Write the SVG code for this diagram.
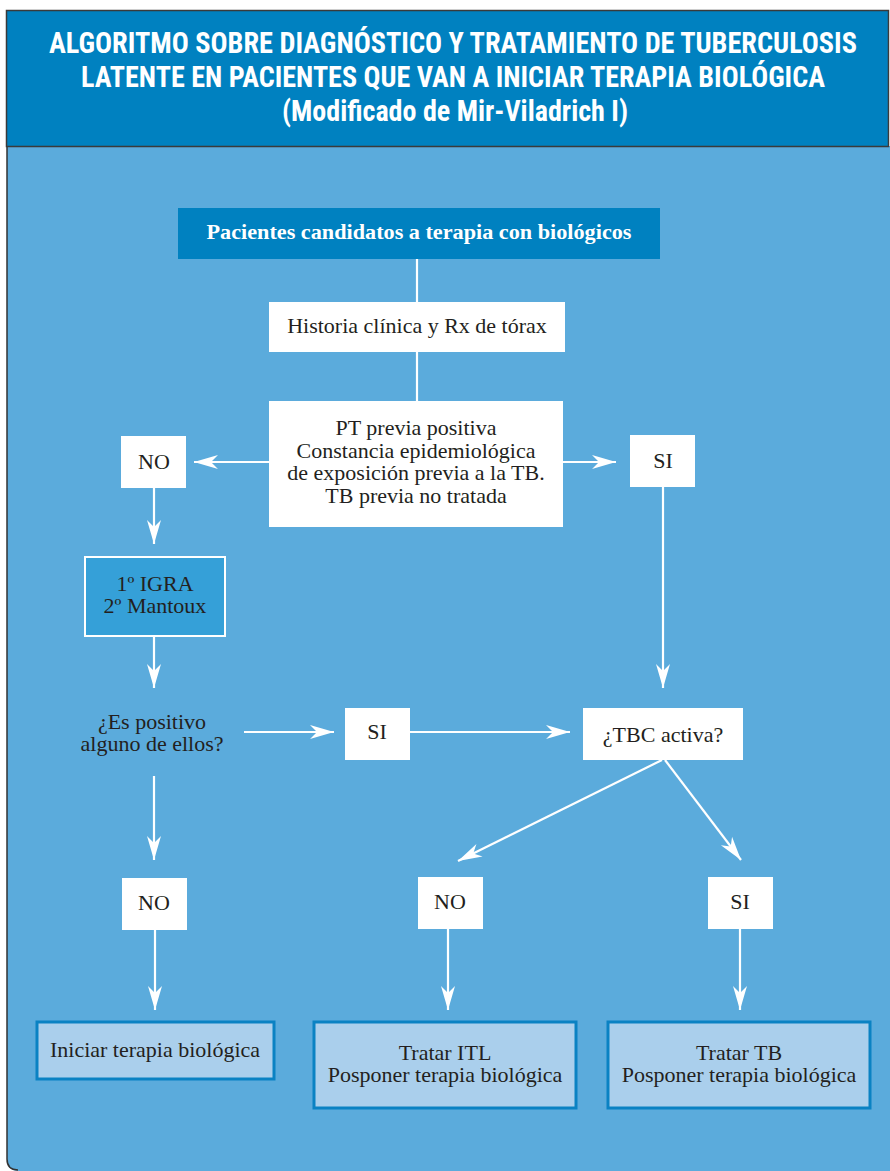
<svg xmlns="http://www.w3.org/2000/svg" width="890" height="1171" viewBox="0 0 890 1171">
<defs>
<style>
.t{font-family:"Liberation Serif","Times New Roman",serif;font-size:22px;fill:#231F20;text-anchor:middle}
.h{font-family:"Liberation Sans Narrow","Roboto Condensed","Liberation Sans",sans-serif;font-weight:bold;font-size:29px;fill:#fff;text-anchor:middle}
.wb{fill:#fff}
.res{fill:#AACFEC;stroke:#0A82C3;stroke-width:3}
.ln{stroke:#fff;stroke-width:2.2;fill:none}
.ar{stroke:#fff;stroke-width:2.2;fill:none;marker-end:url(#ah)}
</style>
<marker id="ah" markerUnits="userSpaceOnUse" markerWidth="30" markerHeight="20" viewBox="-26 -10 30 20" refX="0" refY="0" orient="auto">
<path d="M0,0 L-24,-7 L-17,0 L-24,7 Z" fill="#fff"/>
</marker>
</defs>
<rect width="890" height="1171" fill="#fff"/>
<path d="M7,146 H890 V1171 H19 Q7,1171 7,1159 Z" fill="#5BABDC"/>
<path d="M7,146 V1159 Q7,1170 18,1170" fill="none" stroke="#333" stroke-width="1.5"/>
<g id="header">
<rect x="6.5" y="10.5" width="882" height="136" fill="#0081C0" stroke="#3a3a3a" stroke-width="1.5"/>
<text class="h" x="453" y="53" textLength="808" lengthAdjust="spacingAndGlyphs">ALGORITMO SOBRE DIAGNÓSTICO Y TRATAMIENTO DE TUBERCULOSIS</text>
<text class="h" x="453" y="87" textLength="744" lengthAdjust="spacingAndGlyphs">LATENTE EN PACIENTES QUE VAN A INICIAR TERAPIA BIOLÓGICA</text>
<text class="h" x="455" y="121" textLength="346" lengthAdjust="spacingAndGlyphs">(Modificado de Mir-Viladrich I)</text>
</g>
<g id="connectors">
<line class="ln" x1="417" y1="259" x2="417" y2="302"/>
<line class="ln" x1="417" y1="352" x2="417" y2="401"/>
<line class="ar" x1="269" y1="462" x2="194" y2="462"/>
<line class="ar" x1="563" y1="462" x2="616" y2="462"/>
<line class="ar" x1="154" y1="488" x2="154" y2="544"/>
<line class="ar" x1="154" y1="637" x2="154" y2="688"/>
<line class="ar" x1="663" y1="487" x2="663" y2="688"/>
<line class="ar" x1="244" y1="732" x2="334" y2="732"/>
<line class="ar" x1="410" y1="732" x2="570" y2="732"/>
<line class="ar" x1="662" y1="760" x2="458" y2="861"/>
<line class="ar" x1="665" y1="760" x2="741" y2="860"/>
<line class="ar" x1="154" y1="776" x2="154" y2="860"/>
<line class="ar" x1="155" y1="930" x2="155" y2="1010"/>
<line class="ar" x1="448" y1="929" x2="448" y2="1010"/>
<line class="ar" x1="740" y1="929" x2="740" y2="1010"/>
</g>
<g id="n-pacientes">
<rect x="178" y="208" width="482" height="51" fill="#0081C0"/>
<text class="t" x="419" y="239" style="fill:#fff;font-weight:bold" textLength="425" lengthAdjust="spacingAndGlyphs">Pacientes candidatos a terapia con biológicos</text>
</g>
<g id="n-historia">
<rect class="wb" x="269" y="302" width="296" height="50"/>
<text class="t" x="417" y="333">Historia clínica y Rx de tórax</text>
</g>
<g id="n-pt">
<rect class="wb" x="269" y="401" width="294" height="126"/>
<text class="t" x="416" y="435">PT previa positiva</text>
<text class="t" x="416" y="458">Constancia epidemiológica</text>
<text class="t" x="416" y="480">de exposición previa a la TB.</text>
<text class="t" x="416" y="503">TB previa no tratada</text>
</g>
<g id="n-no1">
<rect class="wb" x="121" y="436" width="65" height="52"/>
<text class="t" x="154" y="469">NO</text>
</g>
<g id="n-si1">
<rect class="wb" x="630" y="435" width="65" height="52"/>
<text class="t" x="663" y="468">SI</text>
</g>
<g id="n-igra">
<rect x="85" y="557" width="140" height="79" fill="#35A0D8" stroke="#fff" stroke-width="2"/>
<text class="t" x="155" y="591">1º IGRA</text>
<text class="t" x="155" y="613">2º Mantoux</text>
</g>
<g id="n-espositivo">
<text class="t" x="152" y="729">¿Es positivo</text>
<text class="t" x="152" y="751">alguno de ellos?</text>
</g>
<g id="n-si2">
<rect class="wb" x="345" y="708" width="65" height="52"/>
<text class="t" x="377" y="739">SI</text>
</g>
<g id="n-tbc">
<rect class="wb" x="583" y="708" width="160" height="52"/>
<text class="t" x="663" y="742">¿TBC activa?</text>
</g>
<g id="n-no2">
<rect class="wb" x="122" y="878" width="65" height="52"/>
<text class="t" x="154" y="910">NO</text>
</g>
<g id="n-no3">
<rect class="wb" x="418" y="877" width="65" height="52"/>
<text class="t" x="450" y="909">NO</text>
</g>
<g id="n-si3">
<rect class="wb" x="708" y="877" width="65" height="52"/>
<text class="t" x="740" y="909">SI</text>
</g>
<g id="n-iniciar">
<rect class="res" x="37" y="1022" width="237" height="57"/>
<text class="t" x="155" y="1057">Iniciar terapia biológica</text>
</g>
<g id="n-itl">
<rect class="res" x="314" y="1022" width="262" height="86"/>
<text class="t" x="445" y="1060">Tratar ITL</text>
<text class="t" x="445" y="1082">Posponer terapia biológica</text>
</g>
<g id="n-tb">
<rect class="res" x="608" y="1022" width="262" height="86"/>
<text class="t" x="739" y="1060">Tratar TB</text>
<text class="t" x="739" y="1082">Posponer terapia biológica</text>
</g>
</svg>
